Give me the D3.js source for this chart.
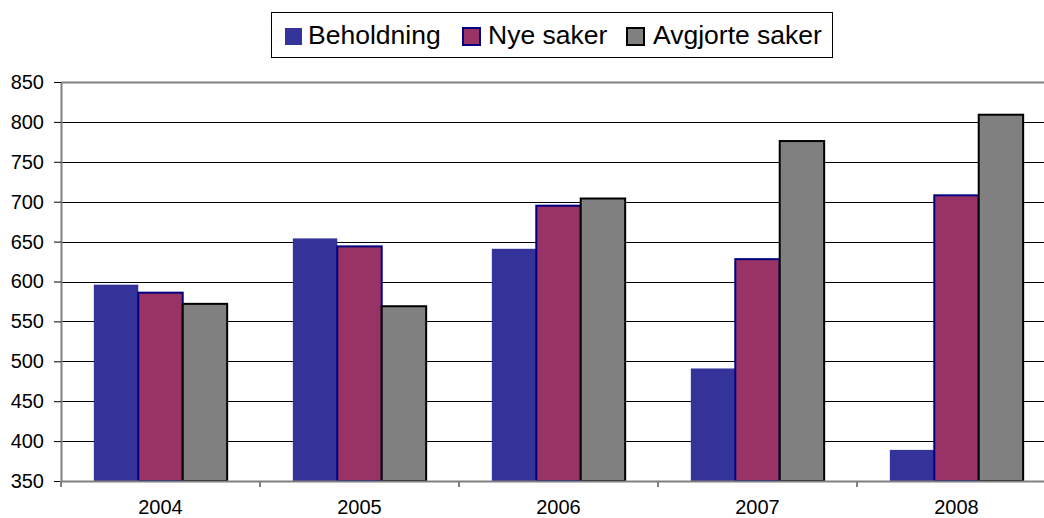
<!DOCTYPE html>
<html>
<head>
<meta charset="utf-8">
<script src="https://cdn.jsdelivr.net/npm/d3@7"></script>
<style>
  body { margin: 0; background: #fff; overflow: hidden; }
  svg { display: block; font-family: "Liberation Sans", Arial, sans-serif; }
</style>
</head>
<body>
<div id="chart"></div>
<script>
const years = ["2004", "2005", "2006", "2007", "2008"];
const seriesNames = ["Beholdning", "Nye saker", "Avgjorte saker"];
const beholdning = [596, 654, 641, 491, 389];
const nyeSaker = [586, 644, 695, 628, 708];
const avgjorteSaker = [572, 569, 704, 776, 809];
const yTicks = [350, 400, 450, 500, 550, 600, 650, 700, 750, 800, 850];

const fills = ["#333399", "#993366", "#808080"];
const strokes = ["none", "#000080", "#000000"];
const series = [beholdning, nyeSaker, avgjorteSaker];

const W = 1044, H = 518;
const margin = { top: 82, right: -12, bottom: 37, left: 61 };
const width = W - margin.left - margin.right,
  height = H - margin.top - margin.bottom;

const svg = d3.select("#chart").append("svg")
  .attr("width", W).attr("height", H);
const g = svg.append("g")
  .attr("transform", "translate(" + margin.left + "," + margin.top + ")");

const x = d3.scaleBand().domain(years).range([0, width]);
const xInner = d3.scaleBand().domain(seriesNames)
  .range([x.bandwidth() * 0.165, x.bandwidth() * 0.835]);
const y = d3.scaleLinear().domain([350, 850]).range([height, 0]);

// gridlines
g.selectAll(".grid")
  .data(yTicks.slice(1))
  .enter().append("line")
  .attr("x1", 0).attr("x2", width)
  .attr("y1", d => Math.round(y(d)) + 0.5).attr("y2", d => Math.round(y(d)) + 0.5)
  .attr("stroke", d => d === 850 ? "#808080" : "#000")
  .attr("stroke-width", d => d === 850 ? 2 : 1);

// bars
seriesNames.forEach((name, i) => {
  g.selectAll(".bar" + i)
    .data(series[i])
    .enter().append("rect")
    .attr("x", (d, j) => x(years[j]) + xInner(name))
    .attr("width", xInner.bandwidth())
    .attr("y", d => y(d))
    .attr("height", d => height - y(d))
    .attr("fill", fills[i])
    .attr("stroke", strokes[i])
    .attr("stroke-width", 2);
});

// y axis
const yAxis = g.append("g")
  .call(d3.axisLeft(y).tickValues(yTicks).tickSize(7).tickSizeOuter(0).tickPadding(10));
yAxis.select(".domain").attr("stroke", "#808080").attr("stroke-width", 2);
yAxis.selectAll(".tick line").attr("stroke", "#000");
yAxis.selectAll("text").attr("font-size", 20).attr("fill", "#000")
  .attr("font-family", "Liberation Sans, Arial, sans-serif");

// x axis
const xAxis = g.append("g")
  .attr("transform", "translate(0," + height + ")")
  .call(d3.axisBottom(x).tickSize(0).tickPadding(19));
xAxis.select(".domain").attr("stroke", "#808080").attr("stroke-width", 2);
xAxis.selectAll("text").attr("font-size", 20).attr("fill", "#000")
  .attr("font-family", "Liberation Sans, Arial, sans-serif");
xAxis.selectAll(".sep")
  .data(years)
  .enter().append("line")
  .attr("x1", d => x(d)).attr("x2", d => x(d))
  .attr("y1", 0).attr("y2", 6)
  .attr("stroke", "#808080").attr("stroke-width", 2);

// legend
const legend = svg.append("g").attr("transform", "translate(271,12)");
legend.append("rect")
  .attr("x", 0.5).attr("y", 0.5).attr("width", 561).attr("height", 45)
  .attr("fill", "#fff").attr("stroke", "#000");
const swatchX = [14, 192, 356];
const labelX = [37, 217, 382];
seriesNames.forEach((name, i) => {
  legend.append("rect")
    .attr("x", swatchX[i]).attr("y", 16).attr("width", 17).attr("height", 17)
    .attr("fill", fills[i])
    .attr("stroke", strokes[i])
    .attr("stroke-width", 2);
  legend.append("text")
    .attr("x", labelX[i]).attr("y", 32)
    .attr("font-size", 26.5)
    .text(name);
});
</script>
</body>
</html>
